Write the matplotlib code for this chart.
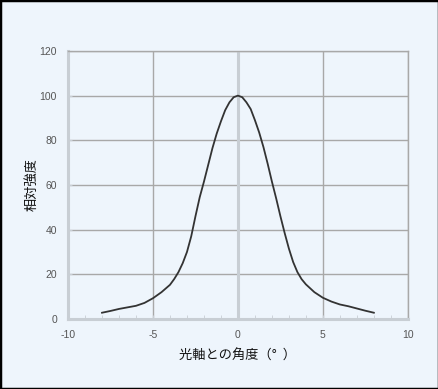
import matplotlib.pyplot as plt
from matplotlib.ticker import MultipleLocator

plt.rcParams['font.family'] = ['Noto Sans CJK JP', 'DejaVu Sans']
plt.rcParams['axes.unicode_minus'] = False

# angle from the optical axis (deg) and relative intensity
angle = [-8, -7.5, -7, -6.5, -6, -5.5, -5, -4.5, -4, -3.75, -3.5, -3.25, -3, -2.75,
         -2.5, -2.25, -2, -1.75, -1.5, -1.25, -1, -0.75, -0.5, -0.25, 0,
         0.25, 0.5, 0.75, 1, 1.25, 1.5, 1.75, 2, 2.25, 2.5, 2.75, 3, 3.25, 3.5,
         3.75, 4, 4.5, 5, 5.5, 6, 6.5, 7, 7.5, 8]
intensity = [2.8, 3.6, 4.5, 5.2, 5.9, 7.2, 9.3, 12, 15.3, 17.9, 21, 25, 30, 37,
             46, 54.5, 61.5, 69, 76.5, 83, 88.5, 93.5, 97, 99.3, 100,
             99.3, 97, 94, 89, 83.5, 77, 69.5, 61.5, 54, 46, 38.5, 31.5, 25.5, 21,
             17.8, 15.5, 12, 9.5, 7.8, 6.5, 5.7, 4.7, 3.7, 2.8]

xticks = [-10, -5, 0, 5, 10]
yticks = [0, 20, 40, 60, 80, 100, 120]

bg = '#eef5fc'
fig = plt.figure(figsize=(4.39, 3.89), dpi=100, facecolor=bg)
ax = fig.add_axes([0.155, 0.18, 0.774, 0.689])
ax.set_facecolor(bg)

ax.plot(angle, intensity, color='#333333', lw=1.3, zorder=3)

ax.set_xlim(-10, 10)
ax.set_ylim(0, 120)
ax.set_xticks(xticks)
ax.set_yticks(yticks)
ax.xaxis.set_minor_locator(MultipleLocator(1))
ax.grid(True, color='#a8a8a8', lw=1.0)
ax.axvline(0, color='#c8ced4', lw=2.2, zorder=2)

for s in ['left', 'bottom']:
    ax.spines[s].set_color('#c8ced4')
    ax.spines[s].set_linewidth(2.2)
for s in ['top', 'right']:
    ax.spines[s].set_color('#a8a8a8')
    ax.spines[s].set_linewidth(1.0)

ax.tick_params(axis='both', which='major', direction='in', length=3, color='#c8ced4',
               labelsize=7.5, labelcolor='#555555', pad=8)
ax.tick_params(axis='x', which='minor', direction='in', length=3, color='#c8ced4')
for lbl in ax.get_xticklabels() + ax.get_yticklabels():
    lbl.set_family('Liberation Sans')

ax.set_xlabel('光軸との角度（°  ）', fontsize=9.5, color='#111111', labelpad=7)
ax.set_ylabel('相対強度', fontsize=9.5, color='#111111')
ax.yaxis.set_label_coords(-0.088, 0.5)

# outer black frame
fig.patches.append(plt.Rectangle((0, 0), 1, 1, transform=fig.transFigure,
                                 fill=False, edgecolor='black', lw=2.5))

fig.savefig('out.png', dpi=100, facecolor=bg)
